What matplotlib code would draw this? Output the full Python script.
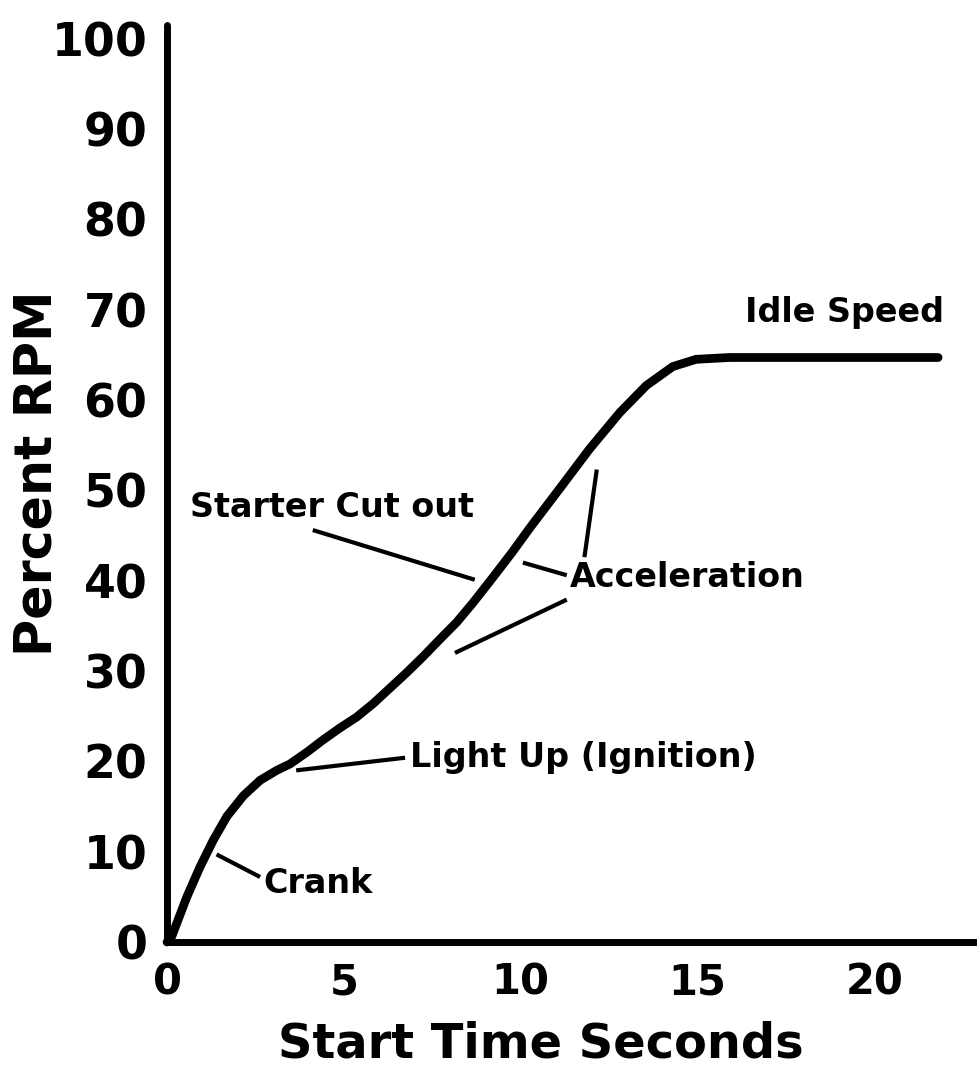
import matplotlib
matplotlib.use("Agg")
import matplotlib.pyplot as plt

plt.rcParams['font.family'] = ['DejaVu Sans']
plt.rcParams['font.weight'] = 'bold'

# Data
time_s = [0, 0.13, 0.56, 0.93, 1.31, 1.69, 2.16, 2.63, 3.10, 3.47, 3.95, 4.42,
          4.89, 5.36, 5.83, 6.30, 6.77, 7.24, 7.71, 8.19, 8.66, 9.22, 9.75,
          10.25, 11.2, 11.95, 12.8, 13.55, 14.3, 14.96, 15.9, 21.8]
rpm_pct = [0, 0.6, 5.0, 8.3, 11.3, 13.9, 16.2, 17.9, 19.0, 19.7, 21.0, 22.4,
           23.7, 24.9, 26.4, 28.1, 29.8, 31.6, 33.5, 35.4, 37.6, 40.4, 43.1,
           45.8, 50.7, 54.6, 58.6, 61.6, 63.7, 64.5, 64.7, 64.7]

x_ticks = [0, 5, 10, 15, 20]
y_ticks = [0, 10, 20, 30, 40, 50, 60, 70, 80, 90, 100]

# annotation texts: (label, x, y)
labels = [
    ("Crank", 2.71, 6.5),
    ("Light Up (Ignition)", 6.86, 20.4),
    ("Starter Cut out", 0.65, 48.1),
    ("Acceleration", 11.38, 40.3),
    ("Idle Speed", 16.33, 69.7),
]
# leader lines: ((x0, y0), (x1, y1))
leaders = [
    ((1.40, 9.7), (2.63, 7.2)),
    ((3.65, 19.0), (6.73, 20.4)),
    ((4.12, 45.6), (8.70, 40.1)),
    ((10.06, 42.0), (11.30, 40.6)),
    ((11.80, 42.6), (12.15, 52.3)),
    ((11.30, 37.9), (8.14, 32.0)),
]

fig = plt.figure(figsize=(9.77, 10.70), dpi=100)
ax = fig.add_axes([0.171, 0.1196, 0.829, 0.857])
ax.plot(time_s, rpm_pct, color='black', lw=6.3, solid_capstyle='round',
        solid_joinstyle='round', clip_on=False)

for (x0, y0), (x1, y1) in leaders:
    ax.plot([x0, x1], [y0, y1], color='black', lw=3, solid_capstyle='butt')

for text, x, y in labels:
    ax.text(x, y, text, fontsize=24, fontweight='bold', ha='left', va='center')

ax.set_xlim(0, 22.9)
ax.set_ylim(0, 101.5)
ax.set_xticks(x_ticks)
ax.set_yticks(y_ticks)
ax.tick_params(axis='x', length=0, labelsize=30, pad=14)
ax.tick_params(axis='y', length=0, labelsize=33, pad=14)
for lbl in ax.get_xticklabels() + ax.get_yticklabels():
    lbl.set_fontweight('bold')

for s in ['top', 'right']:
    ax.spines[s].set_visible(False)
for s in ['left', 'bottom']:
    ax.spines[s].set_linewidth(5)
    ax.spines[s].set_capstyle('round')

ax.set_xlabel("Start Time Seconds", fontsize=34.5, fontweight='bold')
ax.xaxis.set_label_coords(0.462, -0.0851)
ax.set_ylabel("Percent RPM", fontsize=36.5, fontweight='bold')
ax.yaxis.set_label_coords(-0.1294, 0.5115)

fig.savefig("out.png", dpi=100)
